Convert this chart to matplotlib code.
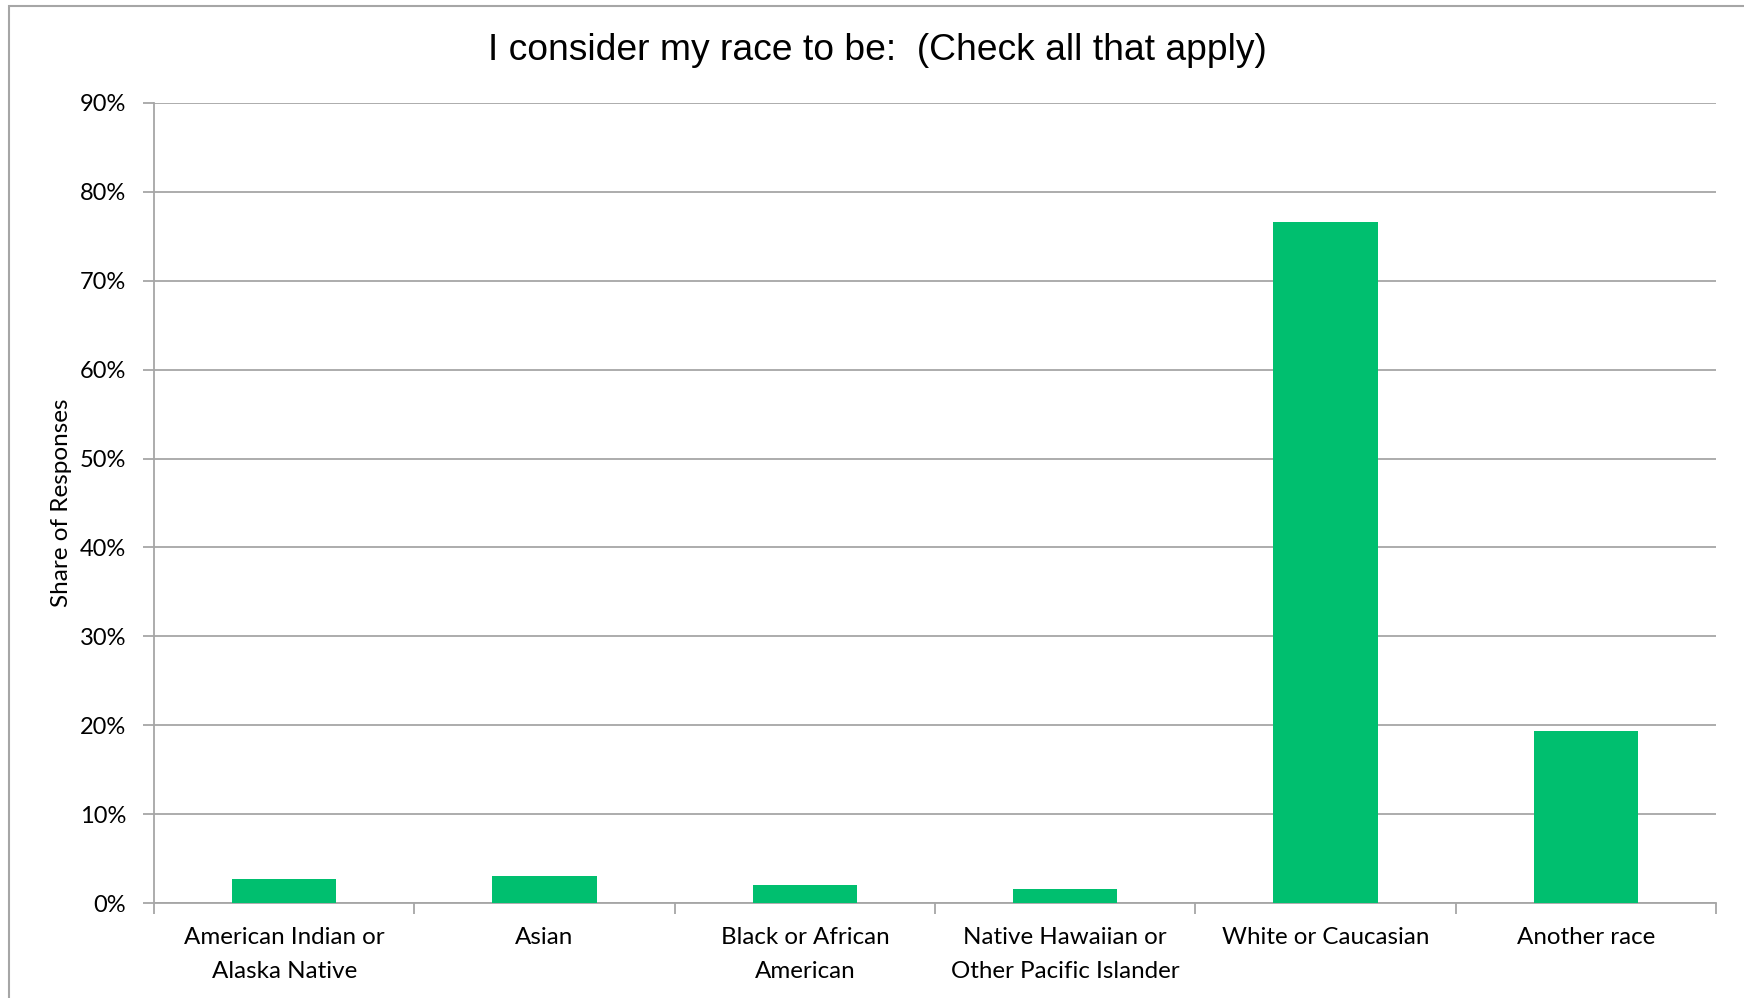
import numpy as np
import matplotlib.pyplot as plt
import matplotlib.transforms as mtransforms
from matplotlib.patches import Rectangle
from matplotlib.ticker import FuncFormatter

# 回答データ
categories = ['American Indian or\nAlaska Native', 'Asian', 'Black or African\nAmerican',
              'Native Hawaiian or\nOther Pacific Islander', 'White or Caucasian', 'Another race']
shares = [2.7, 3.0, 2.0, 1.6, 76.6, 19.3]
yticks = [0, 10, 20, 30, 40, 50, 60, 70, 80, 90]

W, H = 1744, 998
fig = plt.figure(figsize=(W / 100, H / 100), dpi=100)
ax = fig.add_axes([154 / W, 1 - 903 / H, (1716 - 154) / W, (903 - 103) / H])

gray = '#a6a6a6'
x = np.arange(len(categories))
ax.bar(x, shares, width=0.4, color='#00bf6f', zorder=3)

ax.set_xlim(-0.5, len(categories) - 0.5)
ax.set_ylim(0, 90)
ax.set_yticks(yticks)
ax.yaxis.set_major_formatter(FuncFormatter(lambda v, p: '%d%%' % v))
ax.grid(axis='y', color=gray, linewidth=1.3, zorder=0)

# 目盛りはカテゴリの境目に、ラベルは中央にテキストで
ax.set_xticks(np.arange(len(categories) + 1) - 0.5)
ax.set_xticklabels([])
ax.tick_params(axis='x', length=8, color=gray, width=1.3)
trans = mtransforms.blended_transform_factory(ax.transData, ax.transAxes)
for i, cat in enumerate(categories):
    ax.text(i, -0.03, cat, transform=trans, ha='center', va='top',
            fontsize=17.4, family='Lato', linespacing=1.75)

ax.tick_params(axis='y', length=8, color=gray, width=1.3, labelsize=17, pad=12)
for lab in ax.get_yticklabels():
    lab.set_family('Lato')

for s in ['top', 'right']:
    ax.spines[s].set_visible(False)
for s in ['left', 'bottom']:
    ax.spines[s].set_color(gray)
    ax.spines[s].set_linewidth(1.3)

ax.set_ylabel('Share of Responses', fontsize=17.5, family='Lato')
ax.yaxis.set_label_coords(-0.0595, 0.5)
ax.yaxis.label.set_va('center')
fig.text(877 / W, 1 - 51 / H, 'I consider my race to be:  (Check all that apply)',
         ha='center', va='center', fontsize=26.8, family='Liberation Sans')

# 外枠
fig.patches.append(Rectangle((9 / W, -0.1), 1.2, 1 - 6 / H + 0.1, transform=fig.transFigure,
                             fill=False, edgecolor=gray, linewidth=1.5))

plt.savefig('out.png', dpi=100)
